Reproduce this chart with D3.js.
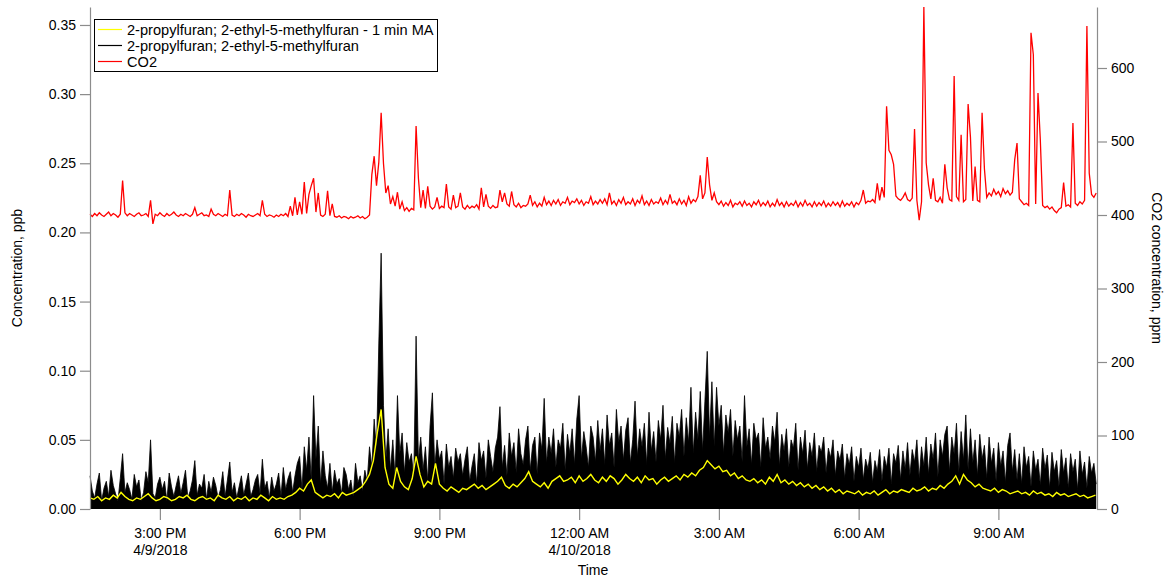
<!DOCTYPE html>
<html><head><meta charset="utf-8">
<script src="https://cdn.jsdelivr.net/npm/d3@7"></script>
<style>
html,body{margin:0;padding:0;background:#fff;}
svg text{font-family:"Liberation Sans",Arial,sans-serif;fill:#000;}
</style></head>
<body><svg id="c" width="1169" height="579"></svg>
<script>
// ---- data ----
const startTime = new Date(2018, 3, 9, 13, 30);   // 4/9/2018 1:30 PM
const endTime = new Date(2018, 3, 10, 11, 7);
const rawStepMinutes = 3;   // furanRaw and co2 sampling
const maStepMinutes = 5;    // furanMA sampling

const furanRaw = [
0.024,0.013,0.008,0.018,0.026,0.006,0.015,0.020,0.009,0.028,0.017,0.011,0.006,0.022,0.040,0.012,0.019,0.014,0.007,0.025,
0.016,0.021,0.006,0.012,0.027,0.019,0.050,0.011,0.008,0.018,0.023,0.014,0.020,0.006,0.026,0.016,0.009,0.017,0.024,0.011,
0.019,0.028,0.008,0.013,0.021,0.035,0.010,0.018,0.015,0.025,0.007,0.020,0.012,0.023,0.017,0.008,0.014,0.027,0.009,0.021,
0.034,0.012,0.019,0.008,0.016,0.024,0.010,0.018,0.026,0.009,0.014,0.021,0.025,0.011,0.036,0.015,0.020,0.008,0.023,0.013,
0.018,0.026,0.009,0.030,0.014,0.022,0.027,0.012,0.024,0.033,0.038,0.014,0.045,0.028,0.052,0.020,0.082,0.036,0.060,0.018,
0.042,0.024,0.015,0.033,0.012,0.028,0.018,0.022,0.011,0.030,0.025,0.014,0.021,0.009,0.033,0.019,0.024,0.013,0.028,0.020,
0.045,0.030,0.065,0.042,0.120,0.185,0.075,0.035,0.058,0.028,0.050,0.022,0.082,0.040,0.055,0.026,0.048,0.034,0.040,0.022,
0.125,0.035,0.052,0.028,0.045,0.020,0.060,0.084,0.030,0.050,0.036,0.042,0.018,0.047,0.030,0.038,0.022,0.044,0.034,0.040,
0.024,0.036,0.045,0.020,0.031,0.040,0.018,0.048,0.035,0.042,0.022,0.050,0.038,0.027,0.044,0.052,0.074,0.030,0.046,0.024,
0.055,0.038,0.048,0.026,0.058,0.040,0.032,0.050,0.060,0.028,0.046,0.052,0.025,0.055,0.043,0.080,0.033,0.052,0.040,0.058,
0.030,0.050,0.044,0.062,0.028,0.054,0.040,0.058,0.032,0.065,0.082,0.036,0.056,0.045,0.030,0.060,0.052,0.034,0.064,0.042,
0.058,0.032,0.068,0.046,0.055,0.030,0.072,0.048,0.060,0.035,0.057,0.066,0.033,0.050,0.078,0.038,0.058,0.045,0.062,0.032,
0.070,0.042,0.056,0.034,0.064,0.050,0.075,0.036,0.059,0.047,0.067,0.033,0.062,0.052,0.072,0.038,0.066,0.048,0.088,0.040,
0.070,0.050,0.085,0.042,0.078,0.114,0.052,0.092,0.045,0.088,0.060,0.075,0.040,0.068,0.055,0.072,0.038,0.064,0.050,0.060,
0.034,0.082,0.045,0.058,0.032,0.062,0.050,0.055,0.030,0.066,0.044,0.052,0.036,0.060,0.048,0.070,0.031,0.054,0.042,0.058,
0.030,0.050,0.044,0.062,0.028,0.052,0.040,0.057,0.029,0.048,0.038,0.055,0.027,0.046,0.041,0.052,0.026,0.044,0.037,0.050,
0.024,0.042,0.035,0.047,0.022,0.040,0.032,0.045,0.020,0.038,0.030,0.044,0.021,0.036,0.029,0.041,0.019,0.035,0.027,0.043,
0.020,0.038,0.030,0.044,0.018,0.040,0.033,0.046,0.021,0.042,0.029,0.048,0.024,0.043,0.034,0.050,0.022,0.045,0.031,0.052,
0.025,0.047,0.036,0.055,0.023,0.050,0.038,0.054,0.060,0.027,0.052,0.040,0.062,0.026,0.056,0.035,0.068,0.028,0.058,0.033,
0.050,0.024,0.054,0.036,0.046,0.022,0.052,0.033,0.044,0.020,0.048,0.031,0.042,0.019,0.046,0.055,0.027,0.043,0.021,0.040,
0.018,0.045,0.030,0.038,0.016,0.042,0.028,0.036,0.017,0.044,0.029,0.039,0.015,0.041,0.027,0.035,0.016,0.043,0.026,0.037,
0.015,0.040,0.027,0.036,0.014,0.042,0.025,0.034,0.015,0.038,0.026,0.033,0.018];

const co2 = [
401,398,402,399,403,400,398,401,404,399,402,400,397,401,447,403,399,402,400,398,
401,403,399,400,402,398,420,388,401,399,403,400,398,402,399,401,404,400,398,401,
399,402,400,398,401,410,399,401,403,399,400,398,408,401,399,402,400,398,401,399,
434,400,398,401,399,402,400,397,401,399,398,400,402,399,420,401,398,400,399,397,
400,398,401,399,402,398,412,399,424,400,418,401,445,402,428,440,450,404,430,400,
398,401,433,399,415,398,397,399,396,398,397,395,398,396,397,399,396,398,395,397,
400,455,480,440,472,539,470,430,440,415,425,412,431,408,418,406,410,405,409,407,
521,450,410,434,409,439,412,408,411,424,409,412,410,442,411,408,427,410,412,430,
411,408,413,409,412,410,414,408,437,411,428,412,409,413,410,411,434,418,430,415,
412,432,414,411,416,410,413,412,415,427,413,418,411,416,412,424,414,419,413,420,
415,421,413,418,416,424,414,419,417,422,415,420,413,418,416,425,414,419,415,421,
416,422,414,430,415,419,413,421,416,424,414,418,415,422,413,420,416,426,414,419,
413,421,415,418,416,423,414,420,415,428,416,419,414,422,415,420,413,425,416,421,
418,425,454,422,430,479,441,420,430,418,414,419,412,417,413,420,411,416,414,418,
412,419,413,416,411,418,414,420,412,417,413,419,411,416,412,421,413,417,411,418,
412,416,413,419,411,417,412,420,413,416,411,418,412,417,413,419,411,416,412,418,
413,417,411,419,412,416,413,418,411,417,414,420,434,416,419,418,421,417,443,420,
438,424,548,488,482,469,426,422,420,424,430,421,419,423,517,420,393,418,683,471,
441,422,450,420,418,424,416,469,437,421,419,589,425,420,509,418,421,551,506,419,
466,420,418,539,463,424,430,426,435,428,432,425,436,429,433,427,431,475,498,422,
418,414,416,413,648,618,415,566,502,413,410,412,408,411,406,403,408,410,444,412,
414,411,525,416,413,418,415,420,657,457,428,424,430];

const furanMA = [
0.008,0.007,0.009,0.006,0.008,0.007,0.010,0.008,0.012,0.009,
0.007,0.006,0.008,0.007,0.009,0.011,0.008,0.006,0.007,0.009,
0.008,0.006,0.007,0.009,0.008,0.010,0.007,0.006,0.008,0.009,
0.007,0.008,0.006,0.010,0.008,0.007,0.009,0.006,0.008,0.007,
0.009,0.006,0.008,0.007,0.010,0.008,0.006,0.009,0.007,0.008,
0.007,0.009,0.010,0.012,0.015,0.013,0.018,0.021,0.012,0.010,
0.008,0.010,0.009,0.011,0.008,0.012,0.010,0.011,0.012,0.014,
0.016,0.020,0.025,0.035,0.055,0.072,0.030,0.018,0.015,0.030,
0.020,0.016,0.014,0.022,0.038,0.025,0.016,0.020,0.018,0.033,
0.018,0.015,0.013,0.016,0.014,0.012,0.015,0.014,0.016,0.018,
0.015,0.017,0.014,0.016,0.018,0.020,0.023,0.017,0.015,0.018,
0.016,0.019,0.022,0.027,0.020,0.018,0.016,0.019,0.015,0.020,
0.022,0.024,0.020,0.021,0.023,0.019,0.024,0.020,0.022,0.025,
0.021,0.019,0.023,0.020,0.024,0.022,0.018,0.021,0.025,0.022,
0.020,0.023,0.019,0.024,0.021,0.022,0.018,0.021,0.023,0.020,
0.022,0.024,0.021,0.025,0.023,0.026,0.024,0.028,0.030,0.035,
0.032,0.029,0.031,0.027,0.028,0.024,0.026,0.022,0.024,0.021,
0.020,0.022,0.019,0.021,0.018,0.023,0.020,0.025,0.019,0.021,
0.018,0.020,0.017,0.019,0.016,0.018,0.015,0.017,0.014,0.016,
0.013,0.015,0.012,0.014,0.011,0.013,0.012,0.011,0.013,0.010,
0.012,0.011,0.013,0.010,0.012,0.014,0.011,0.013,0.012,0.014,
0.013,0.012,0.015,0.013,0.014,0.016,0.013,0.015,0.014,0.017,
0.015,0.018,0.020,0.024,0.018,0.025,0.021,0.019,0.016,0.018,
0.015,0.014,0.013,0.015,0.012,0.014,0.013,0.011,0.012,0.013,
0.011,0.012,0.010,0.013,0.011,0.012,0.010,0.011,0.009,0.012,
0.010,0.011,0.009,0.010,0.011,0.009,0.010,0.008,0.009,0.010];

const leftTicks = [0, 0.05, 0.10, 0.15, 0.20, 0.25, 0.30, 0.35];
const rightTicks = [0, 100, 200, 300, 400, 500, 600];
const xTickTimes = [
  new Date(2018,3,9,15), new Date(2018,3,9,18), new Date(2018,3,9,21),
  new Date(2018,3,10,0), new Date(2018,3,10,3), new Date(2018,3,10,6), new Date(2018,3,10,9)];
const xTickLabels = ["3:00 PM","6:00 PM","9:00 PM","12:00 AM","3:00 AM","6:00 AM","9:00 AM"];
const xTickDates = ["4/9/2018","","","4/10/2018","","",""];
const legendLabels = ["2-propylfuran; 2-ethyl-5-methylfuran - 1 min MA","2-propylfuran; 2-ethyl-5-methylfuran","CO2"];
const legendColors = ["#ffff00","#000000","#ff0000"];

// ---- layout ----
const L = 90, R = 1097, T = 7, B = 509;
const svg = d3.select("#c");
const tRaw = i => new Date(startTime.getTime() + i*rawStepMinutes*60000);
const tMA = i => new Date(startTime.getTime() + i*maStepMinutes*60000);

const x = d3.scaleTime().domain([startTime, endTime]).range([L, R]);
const y = d3.scaleLinear().domain([0, 0.363]).range([B, T]);
const y2 = d3.scaleLinear().domain([0, 683]).range([B, T]);
const axisColor = "#8c8c8c";

// black raw series
svg.append("path").datum(furanRaw)
  .attr("d", d3.area().x((d,i)=>x(tRaw(i))).y0(B).y1(d=>y(d)))
  .attr("fill", "#000");
svg.append("path").datum(furanRaw)
  .attr("d", d3.line().x((d,i)=>x(tRaw(i))).y(d=>y(d)))
  .attr("fill","none").attr("stroke","#000").attr("stroke-width",0.8);

// yellow MA
svg.append("path").datum(furanMA)
  .attr("d", d3.line().x((d,i)=>x(tMA(i))).y(d=>y(d)))
  .attr("fill","none").attr("stroke","#ffff00").attr("stroke-width",1.4);

// CO2
svg.append("path").datum(co2)
  .attr("d", d3.line().x((d,i)=>x(tRaw(i))).y(d=>y2(d)))
  .attr("fill","none").attr("stroke","#ff0000").attr("stroke-width",1.3);

// axes
function styleAxis(g){
  g.select(".domain").attr("stroke", axisColor).attr("stroke-width",1.2);
  g.selectAll(".tick line").attr("stroke", axisColor).attr("stroke-width",1.2);
  g.selectAll(".tick text").style("font-size","14px").attr("fill","#000");
}
const gl = svg.append("g").attr("transform",`translate(${L},0)`)
  .call(d3.axisLeft(y).tickValues(leftTicks).tickFormat(d3.format(".2f")).tickSize(10).tickSizeOuter(0).tickPadding(4));
styleAxis(gl);
const gr = svg.append("g").attr("transform",`translate(${R},0)`)
  .call(d3.axisRight(y2).tickValues(rightTicks).tickFormat(d3.format("d")).tickSize(10).tickSizeOuter(0).tickPadding(4));
styleAxis(gr);
const gx = svg.append("g").attr("transform",`translate(0,${B})`)
  .call(d3.axisBottom(x).tickValues(xTickTimes).tickFormat("").tickSize(11).tickSizeOuter(0));
gx.select(".domain").remove();
gx.selectAll(".tick line").attr("stroke", axisColor).attr("stroke-width",1.2);
gx.selectAll(".tick").each(function(d,i){
  const t = d3.select(this).append("text").attr("text-anchor","middle").style("font-size","14px");
  t.append("tspan").attr("x",0).attr("y",29).text(xTickLabels[i]);
  if (xTickDates[i]) t.append("tspan").attr("x",0).attr("y",46).text(xTickDates[i]);
});

// axis titles
svg.append("text").attr("transform",`translate(22,${(T+B)/2+10}) rotate(-90)`)
  .attr("text-anchor","middle").style("font-size","14px").text("Concentration, ppb");
svg.append("text").attr("transform",`translate(1152,${(T+B)/2+10}) rotate(90)`)
  .attr("text-anchor","middle").style("font-size","14px").text("CO2 concentration, ppm");
svg.append("text").attr("x",593).attr("y",575).attr("text-anchor","middle")
  .style("font-size","14px").text("Time");

// legend
const lg = svg.append("g");
lg.append("rect").attr("x",94.5).attr("y",19.5).attr("width",343).attr("height",52)
  .attr("fill","#fff").attr("stroke","#000").attr("stroke-width",1);
legendLabels.forEach((lab,i)=>{
  const yy = 29.5 + i*16;
  lg.append("line").attr("x1",98).attr("x2",122).attr("y1",yy).attr("y2",yy)
    .attr("stroke",legendColors[i]).attr("stroke-width",1.2);
  lg.append("text").attr("x",127).attr("y",yy+5).style("font-size","14.6px").text(lab);
});
</script></body></html>
